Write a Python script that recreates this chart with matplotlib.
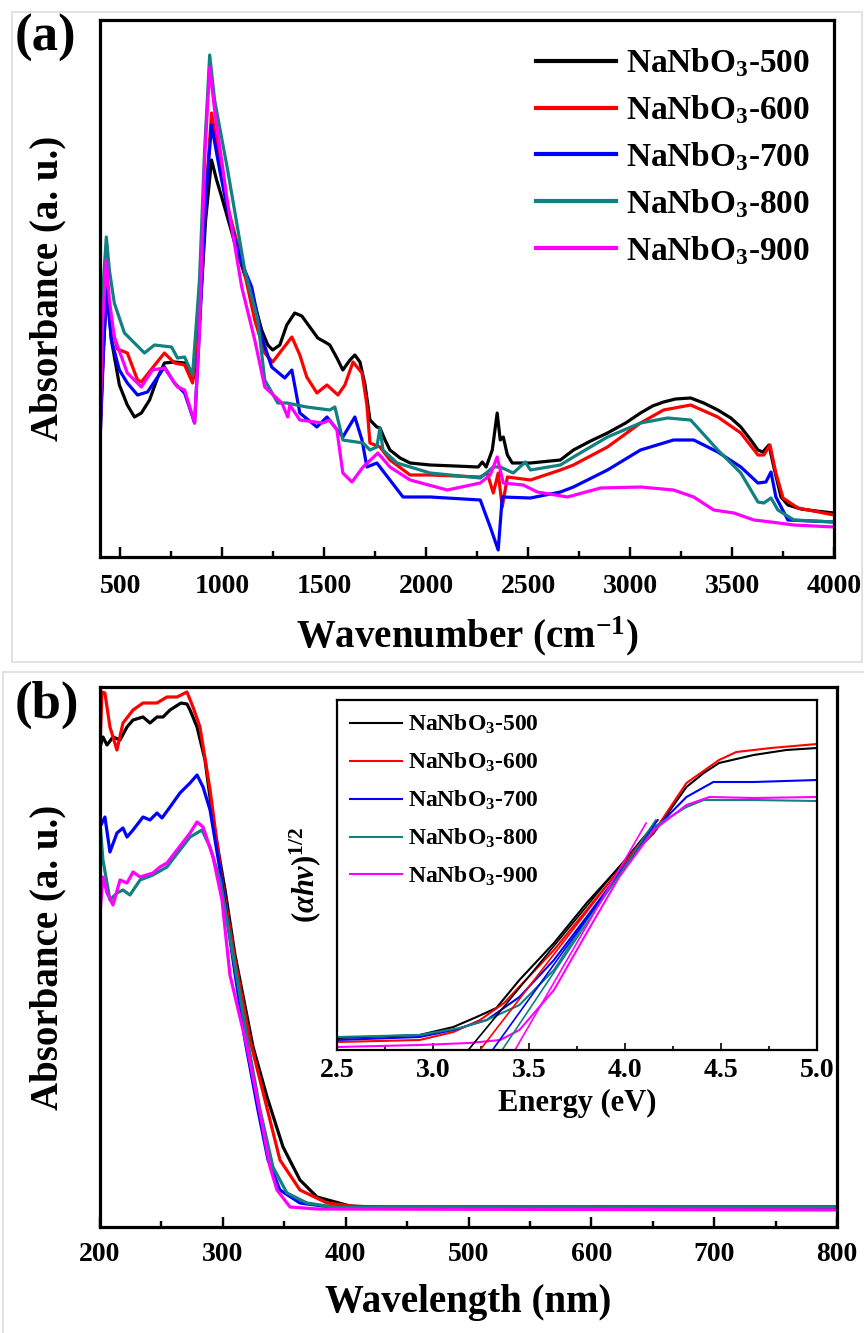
import matplotlib
matplotlib.use("Agg")
import matplotlib.pyplot as plt
from matplotlib.ticker import MultipleLocator, NullLocator
from matplotlib.patches import Rectangle

plt.rcParams.update({
    "font.family": "Liberation Serif",
    "font.weight": "bold",
    "mathtext.fontset": "custom",
    "mathtext.rm": "Liberation Serif:bold",
    "mathtext.it": "Liberation Serif:italic:bold",
    "mathtext.bf": "Liberation Serif:bold",
})

labels = ["NaNbO$_3$-500", "NaNbO$_3$-600", "NaNbO$_3$-700", "NaNbO$_3$-800", "NaNbO$_3$-900"]
colors = ["#000000", "#ff0000", "#0000ff", "#108080", "#ff00ff"]

#----(a) FTIR spectra, wavenumber (cm-1) / absorbance (a.u.)
ir_500_x = [400, 416, 435, 456, 495, 534, 569, 603, 643, 682, 716, 765, 815, 839, 859, 888, 918, 947,
            972, 997, 1036, 1075, 1110, 1144, 1193, 1223, 1247, 1282, 1316, 1355, 1390, 1429, 1468, 1503,
            1527, 1562, 1591, 1626, 1650, 1675, 1700, 1724, 1758, 1773, 1798, 1822, 1872, 1921, 2019,
            2142, 2255, 2275, 2294, 2324, 2348, 2363, 2378, 2398, 2422, 2511, 2658, 2722, 2806, 2889,
            2978, 3051, 3110, 3164, 3223, 3297, 3361, 3430, 3494, 3543, 3592, 3627, 3651, 3681, 3705,
            3740, 3774, 3838, 3912, 4000]
ir_500_y = [127, 207, 272, 217, 172, 152, 140, 144, 157, 179, 194, 195, 194, 187, 179, 237, 337, 397,
            377, 360, 332, 304, 282, 264, 227, 212, 207, 212, 232, 244, 241, 230, 219, 215,
            212, 199, 187, 197, 202, 195, 172, 137, 130, 129, 117, 107, 99, 94, 92,
            91, 90, 95, 90, 107, 144, 117, 120, 102, 94, 94, 97, 107, 116, 124,
            134, 144, 151, 155, 158, 159, 154, 147, 139, 130, 117, 107, 105, 112, 90,
            60, 52, 48, 46, 44]

ir_600_x = [400, 416, 431, 456, 485, 534, 584, 603, 657, 716, 765, 815, 854, 888, 918, 947, 987, 1026,
            1095, 1159, 1208, 1247, 1292, 1341, 1380, 1414, 1464, 1513, 1567, 1601, 1641, 1685, 1709,
            1724, 1773, 1822, 1921, 2019, 2265, 2299, 2329, 2353, 2373, 2398, 2511, 2658, 2722, 2889,
            3051, 3164, 3297, 3430, 3543, 3627, 3656, 3686, 3715, 3750, 3823, 4000]
ir_600_y = [117, 207, 277, 232, 208, 204, 177, 175, 189, 204, 194, 192, 174, 237, 357, 444, 397, 350,
            297, 237, 204, 195, 207, 220, 202, 180, 164, 172, 162, 172, 195, 184, 152,
            114, 110, 97, 82, 82, 80, 84, 64, 84, 50, 80, 77, 87, 92, 110,
            134, 147, 152, 140, 124, 102, 102, 112, 84, 59, 49, 42]

ir_700_x = [400, 416, 431, 456, 495, 534, 584, 633, 716, 765, 815, 864, 888, 918, 947, 987, 1036,
            1095, 1144, 1193, 1242, 1306, 1341, 1380, 1464, 1513, 1591, 1650, 1685, 1709, 1758, 1822,
            1886, 2019, 2265, 2314, 2353, 2373, 2511, 2658, 2722, 2889, 3051, 3213, 3312, 3430, 3543,
            3627, 3666, 3691, 3715, 3774, 4000]
ir_700_y = [114, 200, 267, 217, 187, 174, 162, 165, 190, 174, 164, 134, 227, 357, 432, 387, 337,
            294, 270, 220, 190, 179, 187, 144, 130, 140, 120, 140, 117, 90, 94, 77,
            60, 60, 57, 30, 7, 60, 59, 65, 70, 87, 107, 117, 117, 105, 90,
            74, 75, 85, 60, 37, 35]

ir_800_x = [400, 411, 431, 446, 470, 520, 618, 667, 751, 780, 815, 854, 888, 913, 938, 962, 1026,
            1110, 1174, 1208, 1272, 1316, 1414, 1527, 1552, 1591, 1690, 1724, 1758, 1773, 1788, 1857,
            2019, 2265, 2329, 2363, 2427, 2486, 2511, 2658, 2722, 2889, 3051, 3184, 3297, 3430, 3543,
            3627, 3656, 3691, 3725, 3803, 4000]
ir_800_y = [137, 257, 320, 287, 254, 224, 204, 212, 210, 199, 200, 182, 277, 407, 502, 457, 387,
            287, 237, 177, 154, 154, 150, 147, 150, 117, 114, 107, 110, 129, 107, 94,
            84, 79, 90, 90, 84, 95, 87, 92, 100, 120, 134, 139, 137, 107, 84,
            55, 54, 59, 47, 37, 35]

ir_900_x = [400, 411, 431, 446, 470, 534, 603, 657, 716, 780, 815, 864, 888, 913, 938, 962, 1026,
            1095, 1159, 1208, 1292, 1321, 1331, 1380, 1493, 1527, 1562, 1591, 1636, 1690, 1763, 1822,
            1921, 2103, 2265, 2314, 2348, 2378, 2476, 2545, 2693, 2855, 3051, 3213, 3312, 3410, 3509,
            3607, 3691, 3803, 4000]
ir_900_y = [117, 227, 297, 257, 220, 184, 170, 187, 189, 170, 167, 134, 227, 397, 490, 447, 354,
            270, 217, 170, 154, 140, 152, 137, 134, 137, 127, 84, 75, 90, 104, 90,
            77, 67, 74, 82, 100, 74, 72, 65, 60, 69, 70, 67, 60, 47, 44,
            37, 35, 32, 30]

ir_x = [ir_500_x, ir_600_x, ir_700_x, ir_800_x, ir_900_x]
ir_y = [ir_500_y, ir_600_y, ir_700_y, ir_800_y, ir_900_y]

#----(b) UV-vis diffuse reflectance, wavelength (nm) / absorbance (a.u.)
uv_500_x = [200, 202.4, 205.7, 210.6, 216.3, 222, 226.9, 235, 240.7, 246.4, 251.3, 257, 265.9, 270.8,
            273.3, 279, 285.5, 292, 301.8, 309.9, 324.6, 336, 349, 362.8, 376.7, 403.5, 444, 800]
uv_500_y = [480, 490, 482, 490, 487, 500, 507, 510, 504, 510, 510, 517, 524, 523,
            517, 500, 467, 407, 337, 272, 180, 130, 80, 47, 30, 21, 19, 19]

uv_600_x = [200, 201.6, 204, 208.1, 213.8, 218.7, 226.9, 235, 246.4, 254.5, 262.7, 270.8, 275.7, 281.4,
            289.6, 299.3, 309.9, 322.1, 334.3, 346.5, 362.8, 384.8, 411.7, 800]
uv_600_y = [480, 535, 534, 500, 477, 504, 517, 524, 524, 530, 530, 535, 520, 500,
            437, 347, 267, 187, 127, 67, 37, 24, 20, 20]

uv_700_x = [200, 204, 208.1, 213.8, 218.7, 222, 226.9, 235, 240.7, 246.4, 250.5, 257, 265.1, 273.3,
            279, 283.9, 289.6, 297.7, 308.3, 318, 328.6, 336.8, 346.5, 362.8, 387.2, 800]
uv_700_y = [400, 410, 375, 394, 399, 390, 397, 410, 407, 414, 409, 420, 434, 444,
            452, 440, 417, 357, 267, 187, 117, 67, 37, 24, 20, 20]

uv_800_x = [200, 202.4, 208.1, 213.8, 218.7, 224.4, 232.6, 243.1, 254.5, 265.1, 273.3, 283, 289.6,
            297.7, 309, 320, 330.3, 340.8, 352.2, 368.5, 389.7, 800]
uv_800_y = [404, 367, 327, 334, 337, 332, 347, 352, 360, 377, 390, 397, 380,
            347, 267, 187, 117, 60, 34, 24, 20, 20]

uv_900_x = [200, 202.4, 205.7, 210.6, 216.3, 222, 226.9, 232.6, 243.1, 248.8, 254.5, 262.7, 273.3,
            279, 283.9, 292, 299.3, 305.8, 319.7, 330.3, 338.4, 344.1, 354.7, 376.7, 800]
uv_900_y = [314, 350, 334, 322, 347, 344, 355, 350, 354, 360, 364, 377, 394,
            405, 400, 370, 327, 252, 180, 114, 60, 37, 20, 18, 17]

uv_x = [uv_500_x, uv_600_x, uv_700_x, uv_800_x, uv_900_x]
uv_y = [uv_500_y, uv_600_y, uv_700_y, uv_800_y, uv_900_y]

#----inset: Tauc plot, energy (eV) / (ahv)^1/2
tauc_500_x = [2.5, 2.93, 3.106, 3.227, 3.33, 3.45, 3.63, 3.80, 3.97, 4.15, 4.32, 4.41, 4.49, 4.67, 4.84, 5.0]
tauc_500_y = [12, 15, 23, 33, 42, 70, 107, 147, 183, 217, 263, 277, 287, 295, 300, 302]
tauc_600_x = [2.5, 2.93, 3.106, 3.245, 3.37, 3.63, 3.80, 3.97, 4.15, 4.32, 4.49, 4.58, 4.76, 5.0]
tauc_600_y = [8, 10, 18, 30, 47, 100, 140, 180, 218, 267, 290, 298, 302, 306]
tauc_700_x = [2.5, 2.93, 3.106, 3.28, 3.45, 3.63, 3.80, 3.97, 4.15, 4.32, 4.46, 4.67, 5.0]
tauc_700_y = [10, 13, 20, 30, 53, 90, 133, 177, 220, 253, 268, 268, 270]
tauc_800_x = [2.5, 2.93, 3.14, 3.28, 3.45, 3.63, 3.80, 3.97, 4.15, 4.32, 4.41, 4.67, 5.0]
tauc_800_y = [13, 15, 22, 30, 45, 80, 130, 175, 223, 243, 250, 250, 249]
tauc_900_x = [2.5, 2.93, 3.19, 3.35, 3.45, 3.63, 3.80, 3.97, 4.15, 4.32, 4.44, 4.67, 5.0]
tauc_900_y = [3, 5, 7, 10, 20, 60, 117, 173, 220, 245, 253, 252, 253]

tauc_x = [tauc_500_x, tauc_600_x, tauc_700_x, tauc_800_x, tauc_900_x]
tauc_y = [tauc_500_y, tauc_600_y, tauc_700_y, tauc_800_y, tauc_900_y]

# band-gap tangent lines: x-intercept (Eg) and upper end point
gap_start = [3.184, 3.245, 3.31, 3.36, 3.427]
gap_end_x = [4.17, 4.17, 4.17, 4.16, 4.11]
gap_end_y = [230, 230, 230, 230, 227]

W, H = 864, 1333
fig = plt.figure(figsize=(W / 100, H / 100), dpi=100)

# light frames round each panel
fig.patches.append(Rectangle((12 / W, 1 - 662 / H), 850 / W, 650 / H, transform=fig.transFigure,
                             fill=False, ec="#dddddd", lw=1.2))
fig.patches.append(Rectangle((3 / W, 1 - 1340 / H), 870 / W, 668 / H, transform=fig.transFigure,
                             fill=False, ec="#dddddd", lw=1.2))


def style_axes(ax, spine_w, maj, mnr):
    for s in ax.spines.values():
        s.set_linewidth(spine_w)
    ax.tick_params(axis="x", which="major", direction="in", length=maj, width=spine_w * 0.75, top=False)
    ax.tick_params(axis="x", which="minor", direction="in", length=mnr, width=spine_w * 0.75, top=False)
    ax.yaxis.set_major_locator(NullLocator())
    ax.yaxis.set_minor_locator(NullLocator())


#----panel (a)
ax1 = fig.add_axes([100 / W, 1 - 557 / H, 734 / W, 537 / H])
for x, y, c, lab in zip(ir_x, ir_y, colors, labels):
    ax1.plot(x, y, color=c, lw=2.3, label=lab)
ax1.set_xlim(400, 4000)
ax1.set_ylim(0, 537)
ax1.xaxis.set_major_locator(MultipleLocator(500))
ax1.xaxis.set_minor_locator(MultipleLocator(250))
style_axes(ax1, 2.3, 7, 4)
ax1.set_xticks([500, 1000, 1500, 2000, 2500, 3000, 3500, 4000])
ax1.tick_params(axis="x", labelsize=20, pad=12)
ax1.set_xlabel("Wavenumber (cm$^{-1}$)", fontsize=28, fontweight="bold", labelpad=11)
ax1.set_ylabel("Absorbance (a. u.)", fontsize=28, fontweight="bold", labelpad=24)
leg1 = ax1.legend(loc="upper right", bbox_to_anchor=(0.985, 0.975), frameon=False, fontsize=24,
                  handlelength=2.4, handletextpad=0.3, labelspacing=0.42, borderaxespad=0)
for ln in leg1.get_lines():
    ln.set_linewidth(3)
fig.text(15 / W, 1 - 38 / H, "(a)", fontsize=38, fontweight="bold", va="center", ha="left")

#----panel (b)
ax2 = fig.add_axes([100 / W, 1 - 1227 / H, 737 / W, 540 / H])
for x, y, c in zip(uv_x, uv_y, colors):
    ax2.plot(x, y, color=c, lw=2.3)
ax2.set_xlim(200, 800)
ax2.set_ylim(0, 540)
ax2.xaxis.set_major_locator(MultipleLocator(100))
ax2.xaxis.set_minor_locator(MultipleLocator(50))
style_axes(ax2, 2.3, 7, 4)
ax2.tick_params(axis="x", labelsize=20, pad=11)
ax2.set_xlabel("Wavelength (nm)", fontsize=28, fontweight="bold", labelpad=12)
ax2.set_ylabel("Absorbance (a. u.)", fontsize=28, fontweight="bold", labelpad=24)
fig.text(15 / W, 1 - 705 / H, "(b)", fontsize=38, fontweight="bold", va="center", ha="left")

#----inset Tauc plot
ax3 = fig.add_axes([337 / W, 1 - 1050 / H, 480 / W, 350 / H])
for x, y, c, lab in zip(tauc_x, tauc_y, colors, labels):
    ax3.plot(x, y, color=c, lw=1.5, label=lab)
for x0, x1, y1, c in zip(gap_start, gap_end_x, gap_end_y, colors):
    ax3.plot([x0, x1], [0, y1], color=c, lw=1.2)
ax3.set_xlim(2.5, 5.0)
ax3.set_ylim(0, 350)
ax3.xaxis.set_major_locator(MultipleLocator(0.5))
ax3.xaxis.set_minor_locator(MultipleLocator(0.25))
style_axes(ax3, 1.6, 5, 3)
ax3.tick_params(axis="x", labelsize=20, pad=6)
ax3.set_xlabel("Energy (eV)", fontsize=22, fontweight="bold", labelpad=4)
ax3.set_ylabel(r"$(\alpha h\nu)^{1/2}$", fontsize=22, labelpad=10)
ax3.legend(loc="upper left", frameon=False, fontsize=17, handlelength=2.2, handletextpad=0.25,
           labelspacing=0.62, borderaxespad=0.15)

fig.savefig("out.png", dpi=100)
